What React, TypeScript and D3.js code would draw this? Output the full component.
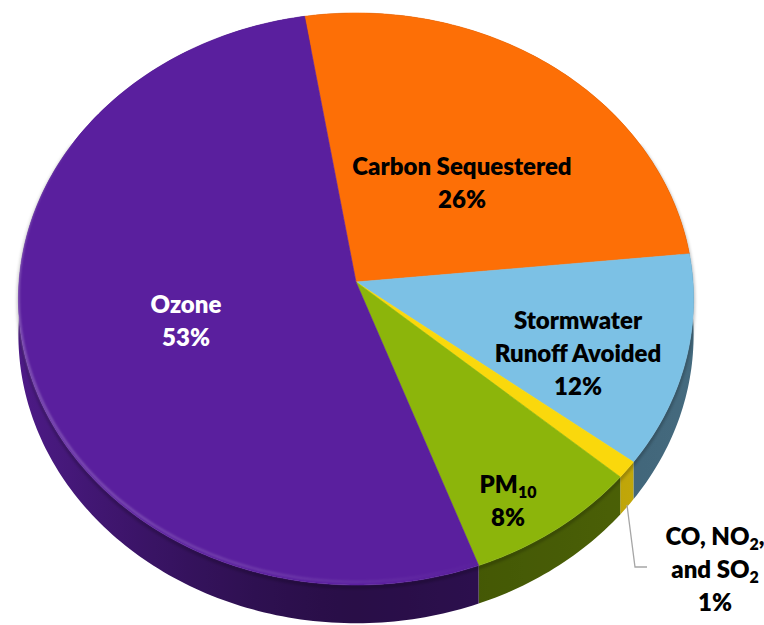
import React from "react";
import * as d3 from "d3";

// Slices in drawing order, clockwise from the top
const categories = ["Carbon Sequestered", "Stormwater Runoff Avoided", "CO, NO2, and SO2", "PM10", "Ozone"];
const shares = [26, 12, 1, 8, 53];
const percentLabels = ["26%", "12%", "1%", "8%", "53%"];
const topColors = ["#fd6f06", "#7cc1e5", "#fad80c", "#8cb50b", "#5a1f9e"];
const textColors = ["#000", "#000", "#000", "#000", "#fff"];

// Name lines per slice; "_x" marks x as a subscript
const nameLines: string[][] = [
  ["Carbon Sequestered"],
  ["Stormwater", "Runoff Avoided"],
  ["CO, NO|_2|,", "and SO|_2"],
  ["PM|_10"],
  ["Ozone"],
];

// Layout
const W = 764;
const H = 625;
const CX = 356;
const CY = 282;
const R = 337;
const RC = 285;
const PERSP = 0.0594;
const DEPTH = 36;
const START = (-9.3 * Math.PI) / 180;
const LINE_H = 33;
const FONT = 24;
const SUB = 16;
const SUB_DY = 5;
const sideLift = [1, 1, 1.45, 1, 1];
const labelCenters: [number, number][] = [
  [462, 183.5],
  [578, 353.5],
  [715, 570],
  [508, 501],
  [186, 321.5],
];

// Perspective projection of a rim point (angle clockwise from the back), dropped by `drop` px
function project(theta: number, drop = 0): [number, number] {
  const u = Math.sin(theta);
  const v = Math.cos(theta);
  const w = 1 / (1 + PERSP * v);
  return [CX + R * u * w, CY - RC * v * w + drop * w];
}

function arcPoints(a0: number, a1: number, drop = 0): [number, number][] {
  const n = Math.max(2, Math.ceil(((a1 - a0) * 180) / Math.PI));
  return d3.range(n + 1).map((i) => project(a0 + ((a1 - a0) * i) / n, drop));
}

// Side wall brightness: lit from the left, darkest at the front
function sideFactor(u: number): number {
  return 0.45 + 0.4 * Math.pow(Math.max(0, -u), 1.5) + 0.1 * Math.max(0, u);
}

function Label({ i }: { i: number }) {
  const lines = [...nameLines[i], percentLabels[i]];
  const [lx, ly] = labelCenters[i];
  const y0 = ly - ((lines.length - 1) * LINE_H) / 2;
  return (
    <g fill={textColors[i]}>
      {lines.map((ln, j) => {
        const pieces = ln.split("|");
        let lowered = false;
        return (
          <text key={j} x={lx} y={y0 + j * LINE_H} dy="0.35em">
            {pieces.map((p, k) => {
              if (p.startsWith("_")) {
                lowered = true;
                return (
                  <tspan key={k} fontSize={SUB} dy={SUB_DY}>
                    {p.slice(1)}
                  </tspan>
                );
              }
              const back = lowered ? -SUB_DY : undefined;
              lowered = false;
              return (
                <tspan key={k} dy={back}>
                  {p}
                </tspan>
              );
            })}
          </text>
        );
      })}
    </g>
  );
}

export default function App() {
  const arcs = d3
    .pie<number>()
    .sort(null)
    .startAngle(START)
    .endAngle(START + 2 * Math.PI)(shares);
  const line = d3.line();
  const center: [number, number] = [CX, CY];
  const uStops = d3.range(0, 41).map((k) => -1 + k / 20);

  const leaderStart = project((arcs[2].startAngle + arcs[2].endAngle) / 2, DEPTH - 2);

  // bevel highlight along the lit front-left rim
  const rimA0 = (150 * Math.PI) / 180;
  const rimA1 = (300 * Math.PI) / 180;

  return (
    <svg width={W} height={H} viewBox={`0 0 ${W} ${H}`} style={{ display: "block", position: "absolute", left: 0, top: 0 }}>
      <defs>
        {topColors.map((c, i) => (
          <linearGradient key={i} id={`side-${i}`} gradientUnits="userSpaceOnUse" x1={CX - R} x2={CX + R} y1={0} y2={0}>
            {uStops.map((u, k) => (
              <stop
                key={k}
                offset={(u + 1) / 2}
                stopColor={d3.interpolateRgb("#000", c)(Math.min(1, sideFactor(u) * sideLift[i]))}
              />
            ))}
          </linearGradient>
        ))}
        <linearGradient id="rim-fade" gradientUnits="userSpaceOnUse" x1={CX - R} x2={CX + R * 0.4} y1={0} y2={0}>
          <stop offset={0} stopColor="#fff" stopOpacity={0.28} />
          <stop offset={1} stopColor="#fff" stopOpacity={0} />
        </linearGradient>
        <filter id="soft" x="-5%" y="-5%" width="110%" height="110%">
          <feGaussianBlur stdDeviation={0.9} />
        </filter>
        <filter id="edge-shadow" x="-5%" y="-5%" width="110%" height="110%">
          <feGaussianBlur stdDeviation={1.6} />
        </filter>
      </defs>
      <rect width={W} height={H} fill="#fff" />
      <g>
        {arcs.map((a, i) => {
          const top = arcPoints(a.startAngle, a.endAngle);
          const bottom = arcPoints(a.startAngle, a.endAngle, DEPTH).reverse();
          return <path key={categories[i]} d={line([...top, ...bottom]) + "Z"} fill={`url(#side-${i})`} />;
        })}
      </g>
      {/* dark soft line where the wall meets the top face */}
      <path
        d={line(arcPoints((60 * Math.PI) / 180, (300 * Math.PI) / 180, 2)) ?? ""}
        fill="none"
        stroke="#000"
        strokeOpacity={0.25}
        strokeWidth={3}
        filter="url(#edge-shadow)"
      />
      <g>
        {arcs.map((a, i) => (
          <path
            key={categories[i]}
            d={line([center, ...arcPoints(a.startAngle, a.endAngle)]) + "Z"}
            fill={topColors[i]}
            stroke={topColors[i]}
            strokeWidth={0.6}
          />
        ))}
      </g>
      <path
        d={line(arcPoints(rimA0, rimA1, -3)) ?? ""}
        fill="none"
        stroke="url(#rim-fade)"
        strokeWidth={2.2}
        filter="url(#soft)"
      />
      <polyline
        points={`${leaderStart[0]},${leaderStart[1]} 635,567 647,567`}
        fill="none"
        stroke="#a6a6a6"
        strokeWidth={1.3}
      />
      <g fontFamily="Lato, 'Open Sans', sans-serif" fontWeight={800} fontSize={FONT} textAnchor="middle">
        {categories.map((c, i) => (
          <Label key={c} i={i} />
        ))}
      </g>
    </svg>
  );
}
